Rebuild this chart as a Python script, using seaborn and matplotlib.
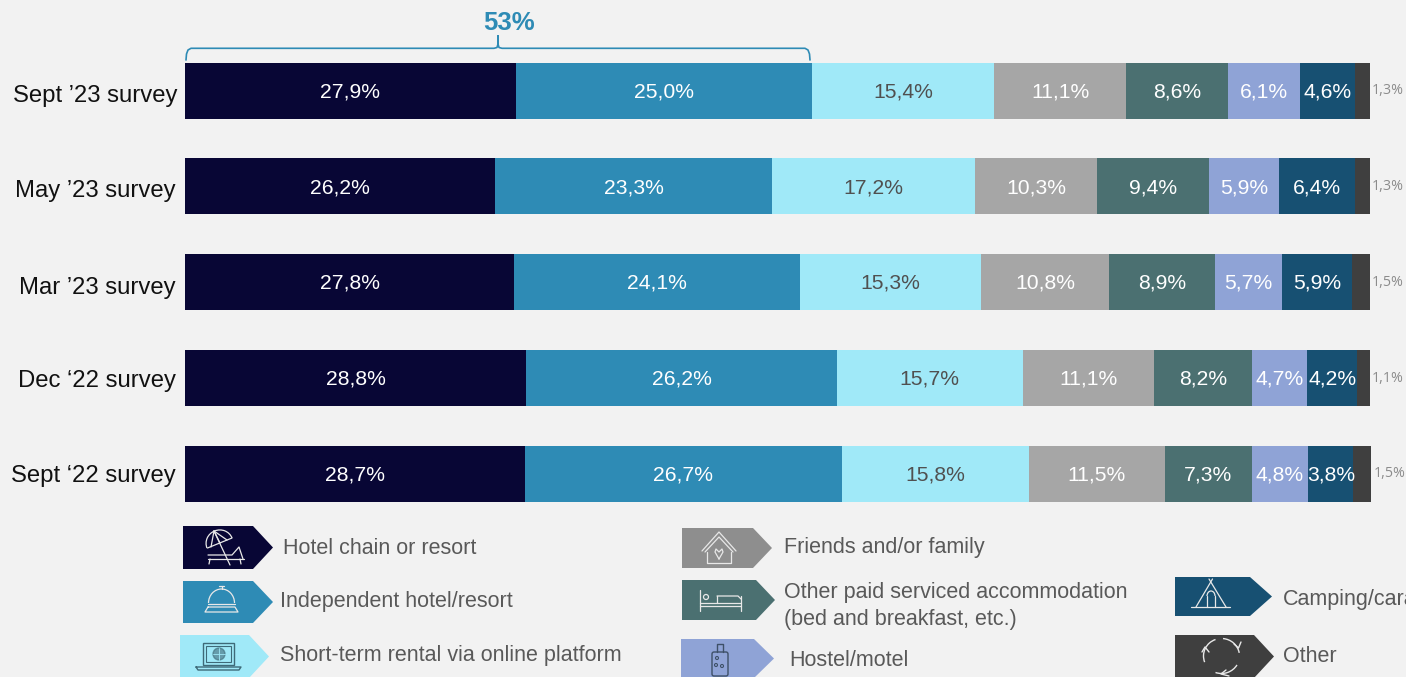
import numpy as np
import pandas as pd
import matplotlib
matplotlib.use("Agg")
import matplotlib.pyplot as plt
from matplotlib.patches import Polygon, Circle, Arc, Rectangle, FancyBboxPatch
from matplotlib.transforms import ScaledTranslation
import seaborn as sns

surveys = ["Sept ’23 survey", "May ’23 survey", "Mar ’23 survey", "Dec ‘22 survey", "Sept ‘22 survey"]
hotel_chain = [27.9, 26.2, 27.8, 28.8, 28.7]
independent = [25.0, 23.3, 24.1, 26.2, 26.7]
short_term = [15.4, 17.2, 15.3, 15.7, 15.8]
friends = [11.1, 10.3, 10.8, 11.1, 11.5]
other_paid = [8.6, 9.4, 8.9, 8.2, 7.3]
hostel = [6.1, 5.9, 5.7, 4.7, 4.8]
camping = [4.6, 6.4, 5.9, 4.2, 3.8]
other = [1.3, 1.3, 1.5, 1.1, 1.5]

series_names = ["Hotel chain or resort", "Independent hotel/resort", "Short-term rental via online platform",
                "Friends and/or family", "Other paid serviced accommodation\n(bed and breakfast, etc.)",
                "Hostel/motel", "Camping/caravan", "Other"]
series_values = [hotel_chain, independent, short_term, friends, other_paid, hostel, camping, other]
colors = ["#080635", "#2E8BB5", "#A0E9F8", "#A6A6A6", "#4B7071", "#8FA3D6", "#175072", "#3F3F3F"]
tag_colors = ["#080635", "#2E8BB5", "#A0E9F8", "#8E8E8E", "#4B7071", "#8FA3D6", "#175072", "#3F3F3F"]
label_colors = ["white", "white", "#505050", "white", "white", "white", "white", "#8C8C8C"]

BG = "#F2F2F2"
TXT = "#595959"
W, H = 1406, 677

sns.set_theme(style="white", rc={"figure.facecolor": BG, "axes.facecolor": "none"})
plt.rcParams["font.family"] = ["Liberation Sans", "DejaVu Sans"]

fig = plt.figure(figsize=(W / 100, H / 100), dpi=100)
ax = fig.add_axes([185 / W, 1 - 521.7 / H, 1186 / W, 479 / H])

left = np.zeros(len(surveys))
for name, vals, col, lc in zip(series_names, series_values, colors, label_colors):
    df = pd.DataFrame({"survey": surveys, "share": vals})
    sns.barplot(data=df, x="share", y="survey", color=col, saturation=1, left=left, width=0.585,
                ax=ax, linewidth=0, clip_on=False)
    c = ax.containers[-1]
    text = [f"{v:.1f}%".replace(".", ",") for v in vals]
    if name == "Other":
        anns = ax.bar_label(c, labels=text, label_type="edge", padding=1.5, color=lc, fontsize=10.3,
                            family=["Open Sans", "DejaVu Sans"])
    else:
        anns = ax.bar_label(c, labels=text, label_type="center", color=lc, fontsize=15.2)
        for a in anns:
            a.xyann = (0, -0.8)
    left = left + np.array(vals)

ax.set_xlim(0, 100.08)
ax.set_ylim(4.5, -0.5)
ax.set_xlabel("")
ax.set_ylabel("")
ax.set_xticks([])
ax.tick_params(axis="y", length=0, pad=6, labelsize=17.2, labelcolor="#111111")
sns.despine(ax=ax, left=True, bottom=True)
fig.canvas.draw()
label_shift = [(1, -3), (-1, -2), (-1, -3), (-1, 0), (-1, 0)]
for t, (dx, dy) in zip(ax.get_yticklabels(), label_shift):
    t.set_transform(t.get_transform() + ScaledTranslation(dx / 100, dy / 100, fig.dpi_scale_trans))

# overlay in pixel space for legend arrows, icons and the bracket
ov = fig.add_axes([0, 0, 1, 1], zorder=5)
ov.set_xlim(0, W)
ov.set_ylim(H, 0)
ov.axis("off")

ICON = "#E8E8E8"

def L(xs, ys, c=ICON, lw=0.9):
    ov.plot(xs, ys, color=c, lw=lw, solid_capstyle="round", clip_on=True)

def tag(x0, sh, tip, y0, y1, col):
    ov.add_patch(Polygon([(x0, y0), (sh, y0), (tip, (y0 + y1) / 2), (sh, y1), (x0, y1)], closed=True,
                         facecolor=col, edgecolor="none"))

tags = [(183, 253, 273, 526, 569), (183, 253, 273, 581, 623), (180, 249, 269, 635, 678),
        (682, 753, 772, 528, 568), (682, 756, 775, 580, 620), (681, 754, 774, 639, 678),
        (1175, 1250, 1272, 577, 616), (1175, 1254, 1274, 635, 678)]
for t, col in zip(tags, tag_colors):
    tag(*t, col)

legend_pos = [(283, 548), (280, 601), (280, 656), (784, 548), (784, 606), (789, 660), (1283, 599), (1283, 656)]
for (x, y), name in zip(legend_pos, series_names):
    ov.text(x, y, name, color=TXT, fontsize=15.5, va="center", ha="left", linespacing=1.32, clip_on=True)

# icon: parasol and lounger
ov.add_patch(Arc((219.5, 543), 27, 26, angle=-22, theta1=180, theta2=360, color=ICON, lw=0.9))
L([207.5, 232], [548, 538])
L([214, 211], [531, 547]); L([214, 220], [531, 543]); L([214, 227], [531, 540])
L([214, 230], [531, 565])
L([208, 232, 239, 243], [555, 555, 547, 559])
L([208, 244], [559, 559])
L([210, 209], [559, 564]); L([240, 241], [559, 564])
# icon: bell
ov.add_patch(Arc((221.5, 603), 26, 28, theta1=180, theta2=360, color=ICON, lw=0.9))
L([208, 235], [604, 604]); L([221.5, 221.5], [586, 589]); L([219, 224], [586, 586])
L([208, 235, 238, 205, 208], [607, 607, 612, 612, 607])
# icon: laptop with globe
C = "#3E6A78"
ov.add_patch(Rectangle((203, 643), 31, 22, fill=False, ec=C, lw=1))
ov.add_patch(Rectangle((206, 646), 25, 16, fill=False, ec=C, lw=0.8))
ov.add_patch(Circle((219, 654), 6, fill=True, fc=C, ec=C, alpha=0.6))
L([213, 225], [654, 654], "#A0E9F8", 0.6); L([219, 219], [648, 660], "#A0E9F8", 0.6)
L([196, 241, 239, 198, 196], [667, 667, 670, 670, 667], C, 1)
# icon: house with heart
L([702, 719, 736], [551, 532, 551]); L([705, 719, 733], [552, 537, 552])
L([707, 707, 731, 731], [552, 563, 563, 552])
L([719, 715, 716, 719, 722, 723, 719], [559, 552, 549, 552, 549, 552, 559])
# icon: bed
L([700, 700], [590, 611]); L([700, 741], [606, 606]); L([700, 741], [603, 603])
L([741, 741], [596, 611]); L([717, 738, 741], [596, 596, 599]); L([717, 717], [596, 603])
ov.add_patch(Circle((706, 597), 2.5, fill=False, ec=ICON, lw=0.9))
# icon: suitcase
C2 = "#3E5068"
ov.add_patch(FancyBboxPatch((712, 652), 16, 24, boxstyle="round,pad=0,rounding_size=2", fill=False, ec=C2, lw=1))
L([717, 717, 723, 723], [652, 644, 644, 652], C2, 1)
for cx, cy in [(717, 658), (722, 666), (716, 665)]:
    ov.add_patch(Circle((cx, cy), 1.5, fill=False, ec=C2, lw=0.8))
# icon: tipi
L([1191, 1230], [607, 607])
L([1212.5, 1196], [579, 607]); L([1209, 1226], [579, 607])
L([1207, 1207], [607, 596]); L([1215, 1215], [607, 596])
ov.add_patch(Arc((1211, 596), 8, 10, theta1=180, theta2=360, color=ICON, lw=0.9))
# icon: cycle arrows
for t1, t2, hx, hy in [(-85, -10, (1234, 1238.5, 1241), (644, 648, 642)),
                        (30, 110, (1226, 1221, 1229), (670, 674, 676)),
                        (160, 250, (1202, 1205, 1209), (652, 647, 652))]:
    ov.add_patch(Arc((1221.5, 656), 36, 35, theta1=t1, theta2=t2, color=ICON, lw=1))
    L(hx, hy, lw=1)

# bracket and total
BR = "#2E8BB5"
bx = [186, 186.5, 188, 191, 494, 497, 498, 498, 498, 499, 502, 805, 808, 809.5, 810]
by = [60, 54, 50, 48.3, 48.3, 47.5, 44, 36, 44, 47.5, 48.3, 48.3, 50, 54, 60]
ov.plot(bx, by, color=BR, lw=1.2, solid_joinstyle="round")
ov.text(509.5, 23.5, "53%", color=BR, fontsize=18.5, fontweight="bold", ha="center", va="center")

fig.savefig("out.png", dpi=100, facecolor=BG)
